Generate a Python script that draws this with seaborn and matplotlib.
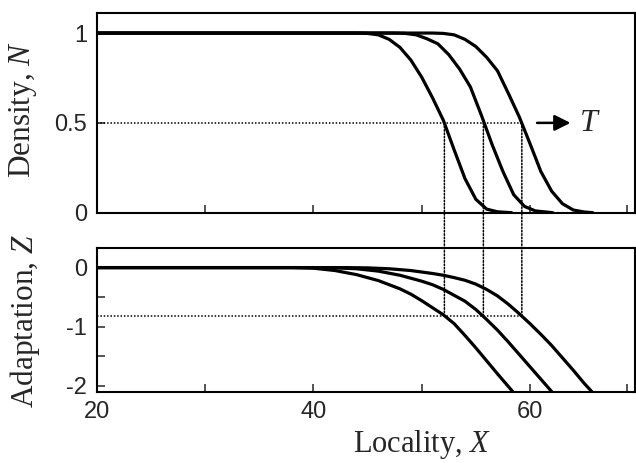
import numpy as np
import pandas as pd
import matplotlib
matplotlib.use('Agg')
import matplotlib.pyplot as plt
import seaborn as sns
from matplotlib.patches import ConnectionPatch

# 数值均从原图读取（三个时刻 T 的前沿）
n_x1 = [20, 44.0, 45.0, 46.0, 47.0, 48.0, 49.0, 50.0, 51.0, 52.0, 53.0, 54.0, 55.0, 56.0, 57.0, 58.3]
n_y1 = [1, 1.0, 0.998, 0.99, 0.965, 0.92, 0.85, 0.755, 0.64, 0.515, 0.35, 0.19, 0.075, 0.02, 0.005, 0]
n_x2 = [20, 47.5, 48.5, 49.5, 50.5, 51.5, 52.5, 53.5, 54.5, 55.5, 56.5, 57.5, 58.5, 59.5, 60.5, 62.1]
n_y2 = [1, 1.0, 0.998, 0.99, 0.968, 0.94, 0.88, 0.80, 0.70, 0.545, 0.38, 0.23, 0.10, 0.035, 0.01, 0]
n_x3 = [20, 51.0, 52.0, 53.0, 54.0, 55.0, 56.0, 57.0, 58.0, 59.0, 60.0, 61.0, 62.0, 63.0, 64.0, 65.0, 65.8]
n_y3 = [1, 1.0, 0.998, 0.99, 0.965, 0.925, 0.865, 0.79, 0.665, 0.535, 0.385, 0.23, 0.12, 0.05, 0.015, 0.004, 0]

z_x1 = [20, 38, 40, 42, 44, 46, 48, 49, 50, 51, 52, 53, 54, 55, 56, 57, 58.4]
z_y1 = [0, 0, -0.01, -0.05, -0.12, -0.22, -0.36, -0.45, -0.56, -0.68, -0.80, -0.95, -1.15, -1.36, -1.58, -1.80, -2.1]
z_x2 = [20, 40, 42, 44, 46, 48, 50, 51, 52, 53, 54, 55, 56, 57, 58, 59, 60, 61, 62.0]
z_y2 = [0, 0, -0.005, -0.02, -0.06, -0.13, -0.23, -0.29, -0.37, -0.47, -0.57, -0.71, -0.88, -1.06, -1.26, -1.47, -1.68, -1.89, -2.1]
z_x3 = [20, 43, 45, 47, 49, 51, 52, 53, 54, 55, 56, 57, 58, 59, 60, 61, 62, 63, 64, 65, 65.7]
z_y3 = [0, 0, -0.005, -0.02, -0.05, -0.10, -0.13, -0.17, -0.215, -0.28, -0.37, -0.48, -0.62, -0.78, -0.95, -1.13, -1.32, -1.53, -1.74, -1.96, -2.1]

# N = 0.5 处的位置及对应的 Z
cross_x = [52.1, 55.7, 59.25]
half_n = 0.5
z_at_half = -0.826

sns.set_style('ticks')
plt.rcParams['font.family'] = ['Liberation Sans', 'DejaVu Sans']
plt.rcParams['axes.unicode_minus'] = False
plt.rcParams['mathtext.fontset'] = 'custom'
plt.rcParams['mathtext.rm'] = 'Liberation Serif'
plt.rcParams['mathtext.it'] = 'Liberation Serif:italic'

fig = plt.figure(figsize=(6.36, 4.63), dpi=100)
ax1 = fig.add_axes([0.152, 0.5406, 0.847, 0.4307])
ax2 = fig.add_axes([0.152, 0.1544, 0.847, 0.311])

dots = (0, (1, 1.2))

def draw_curves(ax, xs, ys):
    for x, y in zip(xs, ys):
        df = pd.DataFrame({'x': x, 'y': y})
        sns.lineplot(data=df, x='x', y='y', ax=ax, color='black', lw=2.3,
                     estimator=None, sort=False)

draw_curves(ax1, [n_x1, n_x2, n_x3], [n_y1, n_y2, n_y3])
draw_curves(ax2, [z_x1, z_x2, z_x3], [z_y1, z_y2, z_y3])

# 虚线
ax1.plot([20, cross_x[-1]], [half_n, half_n], color='black', lw=1.1, ls=dots)
ax2.plot([20, cross_x[-1]], [z_at_half, z_at_half], color='black', lw=1.1, ls=dots)
for cx in cross_x:
    con = ConnectionPatch(xyA=(cx, half_n), coordsA=ax1.transData,
                          xyB=(cx, z_at_half), coordsB=ax2.transData,
                          color='black', lw=1.1, ls=dots)
    fig.add_artist(con)

# 箭头和 T
ax1.annotate('', xy=(64.0, half_n), xytext=(60.4, half_n),
             arrowprops=dict(arrowstyle='-|>', color='black', lw=1.8, mutation_scale=24))
ax1.text(65.5, half_n, '$T$', fontsize=23, ha='center', va='center')

for ax in (ax1, ax2):
    ax.set_xlim(20, 69.73)
    ax.set_xticks([20, 40, 60])
    ax.set_xticks([30, 50, 69], minor=True)
    ax.tick_params(which='both', direction='in', length=5.5, width=1.1,
                   labelsize=17, pad=7, top=False, right=False)
    for sp in ax.spines.values():
        sp.set_linewidth(1.5)
        sp.set_color('black')

ax1.set_ylim(0, 1.11)
ax1.set_yticks([0, 0.5, 1])
ax1.set_yticklabels(['0', '0.5', '1'])
ax1.set_xticklabels([])
ax1.set_xlabel('')

ax2.set_ylim(-2.1, 0.34)
ax2.set_yticks([0, -1, -2])
ax2.set_yticks([-0.5, -1.5], minor=True)
ax2.set_yticklabels(['0', '-1', '-2'])
ax2.set_xticklabels(['20', '40', '60'])

serif = ['Liberation Serif', 'DejaVu Serif']
ax1.set_ylabel('Density, $N$', fontsize=22.5, family=serif, va='center')
ax1.yaxis.set_label_coords(-0.137, 0.52)
ax2.set_ylabel('Adaptation, $Z$', fontsize=22.5, family=serif, va='center')
ax2.yaxis.set_label_coords(-0.133, 0.49)
ax2.set_xlabel('Locality, $X$', fontsize=22, family=serif, va='baseline')
ax2.xaxis.set_label_coords(0.604, -0.422)

fig.savefig('out.png', dpi=100)
